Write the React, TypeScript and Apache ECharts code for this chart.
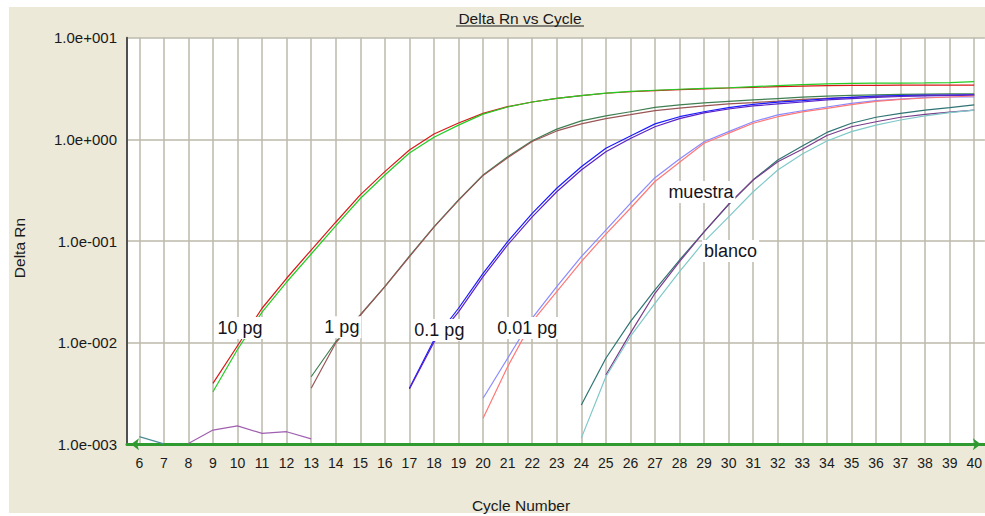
import React, { useEffect, useRef } from "react";
import * as echarts from "echarts";

const FONT = "'Liberation Sans', Arial, sans-serif";

// Cycle ticks on the x axis
const xTicks = [
  6, 7, 8, 9, 10, 11, 12, 13, 14, 15, 16, 17, 18, 19, 20, 21, 22, 23, 24, 25,
  26, 27, 28, 29, 30, 31, 32, 33, 34, 35, 36, 37, 38, 39, 40,
];
// Decade labels of the log axis, from 1e-3 to 1e+1
const yTickLabels = ["1.0e-003", "1.0e-002", "1.0e-001", "1.0e+000", "1.0e+001"];

// Delta Rn per cycle; each series starts at the given cycle
const red10pgStart = 9;
const red10pg = [
  0.00398, 0.00933, 0.0218, 0.043, 0.0815, 0.153, 0.284, 0.481, 0.785, 1.13,
  1.45, 1.8, 2.1, 2.33, 2.53, 2.69, 2.84, 2.94, 3.01, 3.08, 3.14, 3.2, 3.25,
  3.3, 3.34, 3.38, 3.4, 3.4, 3.41, 3.41, 3.41, 3.42,
];
const green10pgStart = 9;
const green10pg = [
  0.00329, 0.00857, 0.02, 0.0395, 0.0745, 0.141, 0.262, 0.446, 0.734, 1.05,
  1.38, 1.77, 2.08, 2.33, 2.53, 2.69, 2.85, 2.96, 3.04, 3.11, 3.17, 3.22, 3.3,
  3.38, 3.46, 3.52, 3.55, 3.57, 3.58, 3.59, 3.62, 3.69,
];
const darkGreen1pgStart = 13;
const darkGreen1pg = [
  0.00462, 0.0102, 0.0187, 0.0355, 0.0711, 0.138, 0.253, 0.446, 0.675, 0.97,
  1.26, 1.52, 1.7, 1.87, 2.06, 2.18, 2.28, 2.36, 2.44, 2.52, 2.6, 2.66, 2.71,
  2.74, 2.77, 2.79, 2.8, 2.8,
];
const brown1pgStart = 13;
const brown1pg = [
  0.00356, 0.00993, 0.0187, 0.0355, 0.07, 0.137, 0.251, 0.442, 0.66, 0.953,
  1.21, 1.42, 1.6, 1.75, 1.92, 2.03, 2.13, 2.23, 2.3, 2.38, 2.47, 2.53, 2.59,
  2.64, 2.67, 2.7, 2.71, 2.71,
];
const blue01pgStart = 17;
const blue01pg = [
  0.00356, 0.0106, 0.0218, 0.0481, 0.0985, 0.187, 0.33, 0.538, 0.817, 1.08,
  1.42, 1.67, 1.87, 2.05, 2.21, 2.32, 2.4, 2.51, 2.59, 2.67, 2.7, 2.73, 2.73,
  2.74,
];
const violet01pgStart = 17;
const violet01pg = [
  0.0035, 0.0101, 0.0201, 0.0446, 0.0914, 0.173, 0.305, 0.499, 0.756, 1.02,
  1.33, 1.6, 1.82, 1.99, 2.13, 2.23, 2.33, 2.44, 2.52, 2.59, 2.64, 2.67, 2.7,
  2.73,
];
const lightBlue001pgStart = 20;
const lightBlue001pg = [
  0.00284, 0.00702, 0.0174, 0.0355, 0.0701, 0.128, 0.235, 0.42, 0.64, 0.948,
  1.19, 1.49, 1.74, 1.91, 2.08, 2.26, 2.4, 2.49, 2.58, 2.61, 2.61,
];
const pink001pgStart = 20;
const pink001pg = [
  0.0018, 0.0058, 0.0161, 0.0317, 0.0626, 0.117, 0.21, 0.385, 0.595, 0.914,
  1.15, 1.44, 1.67, 1.86, 2.02, 2.2, 2.36, 2.47, 2.55, 2.61, 2.67,
];
const tealMuestraStart = 24;
const tealMuestra = [
  0.00244, 0.00702, 0.0161, 0.033, 0.065, 0.123, 0.228, 0.4, 0.627, 0.861,
  1.17, 1.44, 1.65, 1.8, 1.94, 2.05, 2.18,
];
const purpleMuestraStart = 25;
const purpleMuestra = [
  0.00481, 0.0124, 0.0306, 0.0626, 0.123, 0.231, 0.398, 0.603, 0.798, 1.09,
  1.33, 1.49, 1.65, 1.76, 1.85, 1.94,
];
const cyanBlancoStart = 24;
const cyanBlanco = [
  0.00115, 0.00462, 0.0115, 0.0244, 0.0499, 0.0985, 0.173, 0.305, 0.499, 0.718,
  0.964, 1.19, 1.38, 1.55, 1.7, 1.83, 1.94,
];
// Low readings near the baseline
const purpleLowStart = 8;
const purpleLow = [0.00102, 0.00138, 0.00152, 0.00128, 0.00133, 0.00113];
const tealLowStart = 6;
const tealLow = [0.00119, 0.00101];

// Curve annotations: text, cycle, Delta Rn
const labelTexts = ["10 pg", "1 pg", "0.1 pg", "0.01 pg", "muestra", "blanco"];
const labelCycles = [10.1, 14.25, 18.22, 21.8, 28.87, 30.08];
const labelValues = [0.0139, 0.0142, 0.0133, 0.0139, 0.303, 0.0798];

const toPoints = (start: number, values: number[]) =>
  values.map((v, i) => [start + i, v]);

const curves: { name: string; start: number; values: number[]; color: string }[] = [
  { name: "tealLow", start: tealLowStart, values: tealLow, color: "#4f8c98" },
  { name: "purpleLow", start: purpleLowStart, values: purpleLow, color: "#a060b0" },
  { name: "10 pg A", start: red10pgStart, values: red10pg, color: "#d81818" },
  { name: "10 pg B", start: green10pgStart, values: green10pg, color: "#22cc22" },
  { name: "1 pg A", start: darkGreen1pgStart, values: darkGreen1pg, color: "#3f7f52" },
  { name: "1 pg B", start: brown1pgStart, values: brown1pg, color: "#9a5656" },
  { name: "0.1 pg A", start: blue01pgStart, values: blue01pg, color: "#1a1aff" },
  { name: "0.1 pg B", start: violet01pgStart, values: violet01pg, color: "#5a22c8" },
  { name: "0.01 pg A", start: lightBlue001pgStart, values: lightBlue001pg, color: "#8a8aff" },
  { name: "0.01 pg B", start: pink001pgStart, values: pink001pg, color: "#ff7878" },
  { name: "muestra A", start: tealMuestraStart, values: tealMuestra, color: "#2f7474" },
  { name: "muestra B", start: purpleMuestraStart, values: purpleMuestra, color: "#7a3c8c" },
  { name: "blanco", start: cyanBlancoStart, values: cyanBlanco, color: "#80c8c8" },
];

const GRID_COLOR = "#bdb9ab";

export default function App() {
  const ref = useRef<HTMLDivElement>(null);

  useEffect(() => {
    if (!ref.current) return;
    const chart = echarts.init(ref.current, undefined, { renderer: "svg" });

    const baseGraphics: any[] = [
      { id: "mL", type: "rect", silent: true, shape: { x: 0, y: 0, width: 9, height: 516 }, style: { fill: "#fff" } },
      { id: "mT", type: "rect", silent: true, shape: { x: 0, y: 0, width: 985, height: 7 }, style: { fill: "#fff" } },
      { id: "mB", type: "rect", silent: true, shape: { x: 0, y: 513, width: 985, height: 3 }, style: { fill: "#fff" } },
      {
        id: "title", type: "text", x: 520, y: 18, silent: true,
        style: { text: "Delta Rn vs Cycle", fontSize: 15.5, fontFamily: FONT, fill: "#1a1a1a", align: "center", verticalAlign: "middle" },
      },
      { id: "titleLine", type: "line", silent: true, shape: { x1: 456, y1: 26, x2: 584, y2: 26 }, style: { stroke: "#1a1a1a", lineWidth: 1 } },
      {
        id: "yName", type: "text", x: 19.5, y: 248, rotation: Math.PI / 2, silent: true,
        style: { text: "Delta Rn", fontSize: 15.5, fontFamily: FONT, fill: "#1a1a1a", align: "center", verticalAlign: "middle" },
      },
      {
        id: "xName", type: "text", x: 521, y: 505.5, silent: true,
        style: { text: "Cycle Number", fontSize: 15.5, fontFamily: FONT, fill: "#1a1a1a", align: "center", verticalAlign: "middle" },
      },
    ];

    const option: any = {
      animation: false,
      backgroundColor: "#ECE9D8",
      grid: {
        left: 127, top: 37.7, width: 858, height: 406.6,
        show: true, backgroundColor: "#ffffff", borderWidth: 0,
      },
      xAxis: {
        type: "value",
        min: 5.5,
        max: 40.435,
        axisLine: {
          show: true, onZero: false,
          lineStyle: { color: "#2f9a2f", width: 3 },
          symbol: ["arrow", "arrow"],
          symbolSize: [9, 8],
          symbolOffset: [4, -4],
        },
        axisTick: { show: false, customValues: xTicks },
        axisLabel: {
          customValues: xTicks, margin: 12, fontSize: 14, fontFamily: FONT, color: "#1a1a1a",
        },
        splitLine: { show: true, lineStyle: { color: GRID_COLOR, width: 1.5 } },
      },
      yAxis: {
        type: "log",
        logBase: 10,
        min: 0.001,
        max: 10,
        axisLine: { show: true, lineStyle: { color: "#505050", width: 2 } },
        axisTick: { show: false },
        axisLabel: {
          margin: 10, fontSize: 15, fontFamily: FONT, color: "#1a1a1a",
          formatter: (v: number) => yTickLabels[Math.round(Math.log10(v)) + 3] ?? "",
        },
        splitLine: { show: true, lineStyle: { color: GRID_COLOR, width: 1.5 } },
      },
      series: curves.map((c) => ({
        name: c.name,
        type: "line",
        data: toPoints(c.start, c.values),
        showSymbol: false,
        symbol: "none",
        smooth: false,
        z: 3,
        lineStyle: { color: c.color, width: 1.2 },
        itemStyle: { color: c.color },
      })),
      graphic: baseGraphics,
    };

    chart.setOption(option);

    const labelGraphics = labelTexts.map((t, i) => {
      const [px, py] = chart.convertToPixel({ gridIndex: 0 }, [labelCycles[i], labelValues[i]]) as number[];
      return {
        id: "lbl" + i,
        type: "text",
        x: px,
        y: py,
        z: 50,
        silent: true,
        style: {
          text: t, fontSize: 18, fontFamily: FONT, fill: "#141420",
          align: "center", verticalAlign: "middle",
          backgroundColor: "#ffffff", padding: [2, 2],
        },
      };
    });
    chart.setOption({ graphic: [...baseGraphics, ...labelGraphics] });

    return () => chart.dispose();
  }, []);

  return (
    <div
      ref={ref}
      style={{ position: "absolute", left: 0, top: 0, width: 985, height: 516 }}
    />
  );
}
